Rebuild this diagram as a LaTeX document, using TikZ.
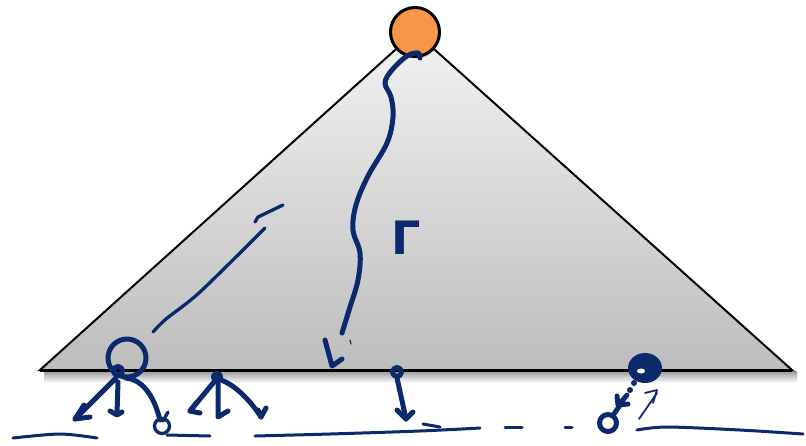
\documentclass[tikz,border=0pt]{standalone}
\usepackage{fontspec}
\newfontfamily\gammafont{DejaVu Sans}
\usetikzlibrary{shadows}
\definecolor{ink}{HTML}{0B2A6B}
\definecolor{apexorange}{HTML}{F79646}
\begin{document}
\begin{tikzpicture}[x=1pt,y=-1pt,
  inkline/.style={draw=ink, line width=5pt, line cap=round, line join=round},
  thinink/.style={draw=ink, line width=3.3pt, line cap=round, line join=round},
  groundline/.style={draw=ink, line width=3pt, line cap=round, line join=round},
  hairink/.style={draw=ink, line width=1.8pt, line cap=round, line join=round},
  blob/.style={fill=ink},
]
\useasboundingbox (0,0) rectangle (806,445);
% shadow under the base
\shade[top color=black!50, bottom color=white, opacity=0.8] (44,371) rectangle (797,383);
% triangle
\draw[line width=2pt, line join=miter, top color=gray!10, bottom color=gray!52]
  (40,370) coordinate (bl) -- (415,32) coordinate (ap) -- (792,370) coordinate (br) -- cycle;
\draw[line width=3pt] (bl) -- (br);
% apex circle
\node[circle, draw, line width=3pt, fill=apexorange, minimum size=49pt, inner sep=0pt,
  drop shadow={shadow xshift=1.5pt, shadow yshift=-2pt, opacity=0.3}] (top) at (415,32) {};
% wavy path from the apex
\draw[inkline] plot[smooth, tension=0.6] coordinates {(420,58) (418,53) (407,56) (392,70) (385,83) (391,97) (393,117) (387,143) (368,176) (356,205) (353,230) (360,253) (358,280) (350,307) (342,333)};
\draw[inkline] (325,340) -- (332,366) -- (342,359);
\draw[ink, line width=1.2pt, line cap=round] (350,340) -- (351,344);
% Gamma label
\node[text=ink, font=\gammafont\bfseries\fontsize{46}{46}\selectfont, inner sep=0pt] (gamma) at (406,238) {Γ};
% dashed diagonal strokes
\draw[thinink] plot[smooth, tension=0.5] coordinates {(153,332) (166,319) (200,292) (265,228)};
\draw[thinink] (255,222) -- (258,217) -- (283,205);
% left node
\draw[inkline] (127,358) circle (19);
\draw[inkline] (118,371) circle (4.5);
\draw[inkline] (116,378) -- (75,419);
\draw[inkline] (84,405) -- (75,419) -- (90,417);
\draw[inkline] (118,382) -- (117,414);
\draw[inkline] (110,411) -- (117,415) -- (122,412);
\draw[inkline] (126,378) .. controls (145,380) and (155,400) .. (160,420);
\draw[thinink] (162,426) circle (7.5);
\draw[thinink] (168,412) -- (163,421);
% middle node
\fill[blob] (217,377) circle (6);
\draw[inkline] (214,382) -- (190,411);
\draw[inkline] (197,402) -- (190,411) -- (200,413);
\draw[inkline] (218,383) -- (218,417) -- (228,411);
\draw[inkline] (221,380) .. controls (235,385) and (250,400) .. (261,417);
\draw[inkline] (258,410) -- (261,417) -- (266,408);
% centre node
\draw[inkline] (397,372) circle (4.5);
\draw[inkline] (397,378) -- (406,419);
\draw[inkline] (397,410) -- (406,419) -- (413,412);
% right node
\fill[blob] (645,368) ellipse (17 and 15);
\fill[white] (641,371) ellipse (4 and 2.5);
\fill[ink] (634,383) circle (3);
\fill[ink] (630,390) circle (3);
\draw[inkline] (627,395) -- (622,401);
\draw[inkline] (617,396) -- (618,405) -- (628,404);
\draw[inkline] (614,414) -- (620,405);
\draw[inkline] (608,423) circle (8.5);
\draw[hairink] (639,419) -- (657,393);
\draw[hairink] (645,393) -- (657,390) -- (653,403);
% ground lines and dashes
\draw[groundline] plot[smooth] coordinates {(13,438) (60,434) (97,438)};
\draw[groundline] (167,435) -- (210,436);
\draw[groundline] plot[smooth] coordinates {(255,436) (330,434) (420,431) (480,428)};
\draw[groundline] (423,424) -- (440,427);
\draw[groundline] (505,427) -- (522,427);
\draw[groundline] (565,427) -- (572,427);
\draw[groundline] plot[smooth] coordinates {(637,430) (667,427) (740,430) (803,434)};
\end{tikzpicture}
\end{document}
